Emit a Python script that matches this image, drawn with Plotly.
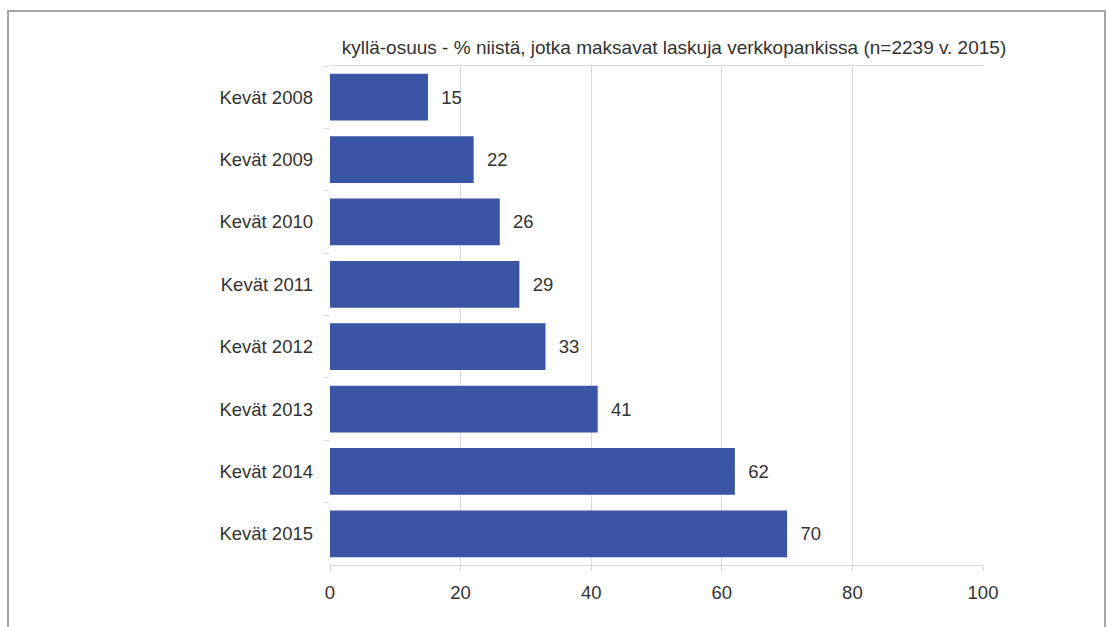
import plotly.graph_objects as go

categories = ["Kevät 2008", "Kevät 2009", "Kevät 2010", "Kevät 2011",
              "Kevät 2012", "Kevät 2013", "Kevät 2014", "Kevät 2015"]
values = [15, 22, 26, 29, 33, 41, 62, 70]
x_ticks = [0, 20, 40, 60, 80, 100]
title_text = "kyllä-osuus - % niistä, jotka maksavat laskuja verkkopankissa (n=2239 v. 2015)"

FONT = "Liberation Sans, Arial"
W, H = 1107, 627
L, R, T, B = 330, 124, 66, 62
pw, ph = W - L - R, H - T - B

fig = go.Figure(go.Bar(
    x=values, y=categories, orientation="h",
    marker=dict(color="#3A55A6", line=dict(width=0)),
    texttemplate="\u00a0\u00a0%{x}", textposition="outside",
    textfont=dict(family=FONT, size=18.5, color="#333333"),
    cliponaxis=False,
))

# outer frame
fig.add_shape(type="rect", xref="paper", yref="paper",
              x0=(8 - L) / pw, x1=(1105 - L) / pw,
              y0=-(B + 20) / ph, y1=1 + (T - 11) / ph,
              line=dict(color="#A6A6A6", width=2), layer="below")

fig.update_layout(
    width=W, height=H,
    margin=dict(l=L, r=R, t=T, b=B),
    paper_bgcolor="white", plot_bgcolor="white",
    bargap=0.25,
    showlegend=False,
    title=dict(text=title_text, x=674 / W, xanchor="center",
               y=1 - 47 / H, yanchor="middle",
               font=dict(family=FONT, size=19, color="#333333")),
    xaxis=dict(range=[0, 100], tickvals=x_ticks, showgrid=True, gridcolor="#D9D9D9",
               gridwidth=1, zeroline=False, showline=True, linecolor="#D9D9D9",
               mirror=True, ticks="outside", ticklen=5, tickcolor="#D9D9D9",
               ticklabelstandoff=6,
               tickfont=dict(family=FONT, size=18.5, color="#333333")),
    yaxis=dict(autorange="reversed", showgrid=False, showline=False,
               ticks="outside", tickson="boundaries", ticklen=5, tickcolor="#D9D9D9",
               ticklabelstandoff=16,
               tickfont=dict(family=FONT, size=18.5, color="#333333")),
)

fig.write_html("out.html")
